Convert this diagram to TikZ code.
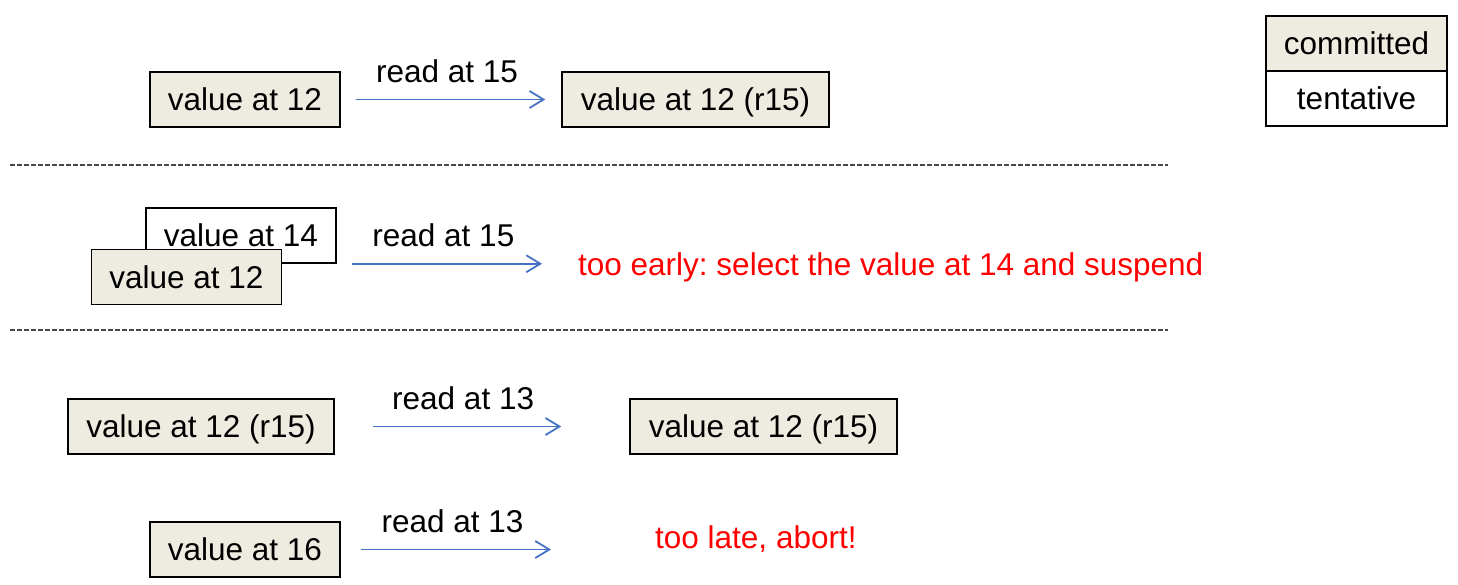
\documentclass[tikz,border=0pt]{standalone}
\usepackage{fontspec}
\setmainfont{Liberation Sans}
\usetikzlibrary{arrows.meta}
\definecolor{boxfill}{RGB}{238,236,225}
\definecolor{arrowblue}{RGB}{68,114,196}
\definecolor{dashgray}{RGB}{70,70,70}
\frenchspacing
\begin{document}
\begin{tikzpicture}[x=1pt,y=-1pt,
  every node/.style={font=\fontsize{31.5}{36}\selectfont, inner sep=0pt, text height=22.6pt, text depth=0pt},
  vbox/.style={draw=black, line width=1.5pt, fill=boxfill, minimum height=55pt},
  wbox/.style={draw=black, line width=1.5pt, fill=white, minimum height=55pt},
  arr/.style={draw=arrowblue, line width=1.8pt, -{Straight Barb[length=14pt,width=17pt]}},
  lbl/.style={pos=#1, above=16pt},
  note/.style={text=red, anchor=west},
  sep/.style={draw=dashgray, line width=1.8pt, dash pattern=on 5pt off 2pt}
]
\useasboundingbox (0,0) rectangle (1458,584);

% legend
\node[vbox, minimum width=181pt] (committed) at (1356.5,43.5) {committed};
\node[wbox, minimum width=181pt] (tentative) at (1356.5,98.5) {tentative};

% row 1
\node[vbox, minimum width=190pt] (r1a) at (245,99.5) {value at 12};
\node[vbox, minimum width=267pt] (r1b) at (695.5,99.5) {value at 12 (r15)};
\draw[arr, shorten <=15pt, shorten >=16pt] (r1a) -- (r1b) node[lbl=0.482] (l1) {read at 15};

% separator 1
\coordinate (s1l) at (10,165);
\coordinate (s1r) at (1168,165);
\draw[sep] (s1l) -- (s1r);

% row 2
\node[wbox, minimum width=190pt] (r2t) at (241,235.5) {value at 14};
\node[vbox, minimum width=190pt] (r2c) at (186.5,277) {value at 12};
\node[note] (early) at (578,264) {too early: select the value at 14 and suspend};
\draw[arr, shorten >=36pt] ([xshift=15pt]r2t.south east) -- (r2t.south east -| early.west) node[lbl=0.405] (l2) {read at 15};

% separator 2
\coordinate (s2l) at (10,330);
\coordinate (s2r) at (1168,330);
\draw[sep] (s2l) -- (s2r);

% row 3
\node[vbox, minimum width=266pt] (r3a) at (201,426.5) {value at 12 (r15)};
\node[vbox, minimum width=267pt] (r3b) at (763.5,426.5) {value at 12 (r15)};
\draw[arr, shorten <=38pt, shorten >=68pt] (r3a) -- (r3b) node[lbl=0.436] (l3) {read at 13};

% row 4
\node[vbox, minimum width=190pt] (r4a) at (245,549.5) {value at 16};
\node[note] (late) at (655,537) {too late, abort!};
\draw[arr, shorten <=20pt, shorten >=104pt] (r4a.east) -- (r4a.east -| late.west) node[lbl=0.356] (l4) {read at 13};
\end{tikzpicture}
\end{document}
